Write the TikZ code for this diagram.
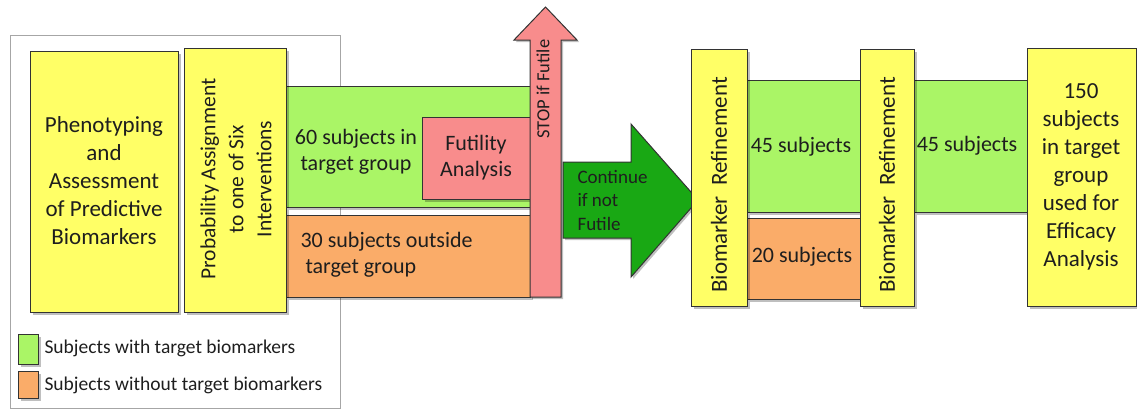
\documentclass[tikz,border=0pt]{standalone}
\usepackage{fontspec}
\setmainfont{Carlito}
\usetikzlibrary{shadows}
\definecolor{cyel}{RGB}{255,255,102}
\definecolor{cgrn}{RGB}{170,245,102}
\definecolor{corg}{RGB}{250,172,105}
\definecolor{cpnk}{RGB}{248,140,140}
\definecolor{cdg}{RGB}{25,168,20}
\definecolor{ctxt}{RGB}{30,30,30}
\tikzset{
  shd/.style={drop shadow={shadow xshift=2pt,shadow yshift=-2pt,fill=black,opacity=0.25}},
  boxs/.style={draw=black!80,line width=1pt,shd,inner sep=0pt,anchor=north west,text=ctxt},
  bigtxt/.style={font=\fontsize{23}{28}\selectfont,align=center,text=ctxt},
  midtxt/.style={font=\fontsize{22}{26}\selectfont,text=ctxt},
  smalltxt/.style={font=\fontsize{19.5}{23}\selectfont,text=ctxt},
}
\begin{document}
\begin{tikzpicture}[x=1pt,y=-1pt]
\useasboundingbox (0,0) rectangle (1137,410);
% outer legend frame
\draw[black!35,line width=1pt] (10,35) rectangle (340,408);
% bands
\node[boxs,fill=cgrn,minimum width=244pt,minimum height=121pt] (g60) at (286,86) {};
\node[boxs,fill=corg,minimum width=244pt,minimum height=82pt] (o30) at (286,215) {};
\node[boxs,fill=cpnk,minimum width=108pt,minimum height=82pt] (fut) at (422,117) {};
\node[midtxt,align=center] (t60) at (356,152) {60 subjects in\\target group};
\node[midtxt,align=left,anchor=west] (t30) at (297,255) {30 subjects outside\\\ target group};
\node[midtxt,align=center] (tfut) at (476,158) {Futility\\Analysis};
% yellow boxes left
\node[boxs,fill=cyel,minimum width=148pt,minimum height=261pt] (pheno) at (30,51) {};
\node[bigtxt] (tpheno) at (104,181) {Phenotyping\\and\\Assessment\\of Predictive\\Biomarkers};
\node[boxs,fill=cyel,minimum width=102pt,minimum height=264pt] (prob) at (184,48) {};
\node[bigtxt,font=\fontsize{21.5}{28}\selectfont,rotate=90] (tprob) at (236,179) {Probability Assignment\\to one of Six\\Interventions};
% STOP arrow
\filldraw[fill=cpnk,draw=black!80,line width=1pt,shd]
  (530,297) -- (530,40) -- (514,40) -- (545.5,7) -- (577,40) -- (561,40) -- (561,297) -- cycle;
\node[smalltxt,font=\fontsize{18.5}{20}\selectfont,rotate=90] (tstop) at (543,89) {STOP if Futile};
% continue arrow
\filldraw[fill=cdg,draw=black!80,line width=1pt,shd]
  (563,162) -- (631,162) -- (631,124) -- (698,200) -- (631,277) -- (631,238) -- (563,238) -- cycle;
\node[smalltxt,font=\fontsize{19}{23.5}\selectfont,align=left,anchor=west] (tcont) at (574,200) {Continue\\if not\\Futile};
% right section bands
\node[boxs,fill=cgrn,minimum width=113pt,minimum height=132pt] (g45a) at (747,80) {};
\node[boxs,fill=corg,minimum width=113pt,minimum height=81pt] (o20) at (747,218) {};
\node[boxs,fill=cgrn,minimum width=113pt,minimum height=132pt] (g45b) at (914,80) {};
\node[midtxt] (t45a) at (801,147) {45 subjects};
\node[midtxt] (t20) at (802,257) {20 subjects};
\node[midtxt] (t45b) at (967,146) {45 subjects};
% refinement boxes
\node[boxs,fill=cyel,minimum width=56pt,minimum height=257pt] (br1) at (691,49) {};
\node[bigtxt,rotate=90] (tbr1) at (719,185) {Biomarker\ \ Refinement};
\node[boxs,fill=cyel,minimum width=54pt,minimum height=257pt] (br2) at (860,49) {};
\node[bigtxt,rotate=90] (tbr2) at (887,185) {Biomarker\ \ Refinement};
\node[boxs,fill=cyel,minimum width=109pt,minimum height=258pt] (fin) at (1027,48) {};
\node[bigtxt] (tfin) at (1081,177) {150\\subjects\\in target\\group\\used for\\Efficacy\\Analysis};
% legend
\node[boxs,fill=cgrn,minimum width=20pt,minimum height=30pt] (lg) at (18,334) {};
\node[boxs,fill=corg,minimum width=20pt,minimum height=27pt] (lo) at (18,371) {};
\node[smalltxt,anchor=west] (tlg) at (41,348) {Subjects with target biomarkers};
\node[smalltxt,anchor=west] (tlo) at (41,385) {Subjects without target biomarkers};
\end{tikzpicture}
\end{document}
